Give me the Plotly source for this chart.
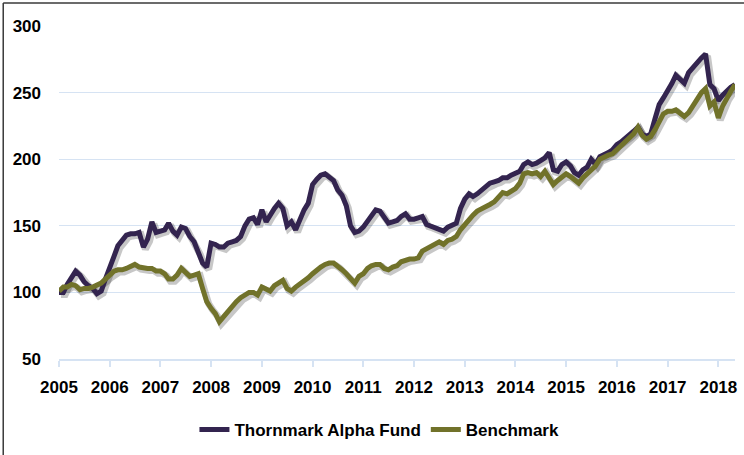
import plotly.graph_objects as go
import pandas as pd

start_month = "2005-01-01"
fund_values = [
    100, 100, 106, 112, 116, 113, 108, 105, 103, 99, 101, 110,     # 2005
    120, 127, 135, 139, 143, 144, 144, 145, 134, 140, 153, 145,    # 2006
    146, 147, 152, 146, 143, 149, 148, 142, 138, 130, 122, 119,    # 2007
    137, 136, 134, 134, 137, 138, 139, 142, 150, 155, 156, 151,    # 2008
    162, 153, 158, 163, 167, 163, 150, 153, 147, 155, 162, 167,    # 2009
    181, 185, 188, 189, 186, 184, 177, 173, 165, 150, 145, 146,    # 2010
    149, 153, 157, 162, 161, 156, 152, 153, 154, 157, 159, 155,    # 2011
    155, 156, 157, 151, 150, 149, 148, 146, 149, 150, 152, 163,    # 2012
    170, 174, 172, 174, 177, 180, 182, 183, 184, 186, 186, 188,    # 2013
    190, 191, 196, 198, 196, 197, 199, 201, 205, 192, 191, 196,    # 2014
    198, 195, 190, 188, 192, 194, 200, 196, 202, 203, 205, 207,    # 2015
    211, 213, 216, 218, 221, 224, 219, 217, 219, 230, 241, 246,    # 2016
    251, 257, 263, 260, 257, 265, 269, 272, 276, 279, 256, 253,    # 2017
    244, 248, 251, 254, 256,                                       # 2018
]
benchmark_values = [
    101, 104, 104, 106, 105, 102, 103, 103, 104, 105, 107, 110,    # 2005
    113, 116, 117, 117, 118, 120, 121, 119, 118, 118, 118, 116,    # 2006
    116, 114, 110, 110, 113, 118, 115, 112, 113, 114, 103, 93,     # 2007
    88, 84, 78, 82, 86, 90, 93, 96, 98, 100, 100, 98,              # 2008
    104, 102, 101, 105, 107, 109, 103, 101, 104, 106, 108, 111,    # 2009
    114, 117, 119, 121, 122, 122, 120, 117, 114, 110, 107, 112,    # 2010
    114, 118, 120, 121, 121, 118, 117, 119, 120, 123, 124, 125,    # 2011
    125, 126, 131, 133, 134, 136, 138, 136, 139, 140, 142, 147,    # 2012
    151, 155, 158, 161, 163, 164, 166, 168, 172, 175, 174, 176,    # 2013
    178, 182, 189, 190, 189, 190, 187, 191, 186, 181, 184, 187,    # 2014
    189, 187, 184, 182, 186, 189, 192, 195, 200, 202, 203, 204,    # 2015
    207, 210, 212, 216, 219, 224, 218, 215, 217, 222, 228, 234,    # 2016
    236, 236, 237, 234, 232, 235, 240, 245, 250, 253, 240, 243,    # 2017
    231, 240, 246, 251, 256,                                       # 2018
]
series_names = ["Thornmark Alpha Fund", "Benchmark"]
y_ticks = [50, 100, 150, 200, 250, 300]

dates = pd.date_range(start_month, periods=len(fund_values), freq="MS")

colors = ["#33244f", "#71722a"]
FONT = "Liberation Sans, Arial, sans-serif"
GRID = "#d6e3f3"

x_range = [pd.Timestamp("2005-01-01"), pd.Timestamp("2018-05-01")]
shift = pd.Timedelta(days=14)
y_range = [50, 300]
dy = 1.6

fig = go.Figure()
# invisible trace anchoring the base axes (grid, ticks, labels)
fig.add_trace(go.Scatter(x=dates, y=fund_values, mode="lines", xaxis="x", yaxis="y",
                         line=dict(color="rgba(0,0,0,0)", width=0),
                         showlegend=False, hoverinfo="skip"))
for name, vals, col in zip(series_names, [fund_values, benchmark_values], colors):
    fig.add_trace(go.Scatter(x=dates, y=vals, mode="lines", xaxis="x2", yaxis="y2",
                             line=dict(color="rgba(0,0,0,0.22)", width=7),
                             showlegend=False, hoverinfo="skip"))
    fig.add_trace(go.Scatter(x=dates, y=vals, mode="lines", name=name, xaxis="x3", yaxis="y3",
                             line=dict(color=col, width=5)))

fig.update_layout(
    width=744, height=455,
    margin=dict(l=59, r=9, t=26, b=96, autoexpand=False),
    plot_bgcolor="white", paper_bgcolor="white",
    font=dict(family=FONT, size=17, color="#000000", weight="bold"),
    xaxis=dict(range=x_range, type="date", tick0="2005-01-01", dtick="M12", tickformat="%Y",
               showgrid=False, showline=True, linecolor=GRID, linewidth=1.5,
               ticks="outside", ticklen=6, tickcolor=GRID, tickwidth=1.5,
               ticklabelstandoff=6, zeroline=False, automargin=False),
    yaxis=dict(range=y_range, tickvals=y_ticks, showgrid=True, gridcolor=GRID, gridwidth=1.2,
               zeroline=False, showline=False, ticks="", ticklabelstandoff=17, automargin=False),
    xaxis2=dict(range=[x_range[0] - shift, x_range[1] - shift], type="date",
                overlaying="x", visible=False),
    yaxis2=dict(range=[y_range[0] + dy, y_range[1] + dy], overlaying="y", visible=False),
    xaxis3=dict(range=x_range, type="date", overlaying="x", visible=False),
    yaxis3=dict(range=y_range, overlaying="y", visible=False),
    legend=dict(orientation="h", x=0.51, xanchor="center", xref="container",
                y=1 - 430 / 455, yanchor="middle", yref="container",
                font=dict(family=FONT, size=17, color="#000000", weight="bold"),
                itemwidth=30, bgcolor="rgba(0,0,0,0)"),
    shapes=[
        dict(type="line", xref="paper", yref="paper", x0=-0.0825, x1=-0.0825, y0=1.069, y1=-0.3,
             line=dict(color="#3a3a3a", width=1.5)),
        dict(type="line", xref="paper", yref="paper", x0=-0.0825, x1=1.02, y0=1.069, y1=1.069,
             line=dict(color="#3a3a3a", width=1.5)),
    ],
)

fig.write_html("out.html", config={"displayModeBar": False},
               post_script="document.body.style.margin='0';")
